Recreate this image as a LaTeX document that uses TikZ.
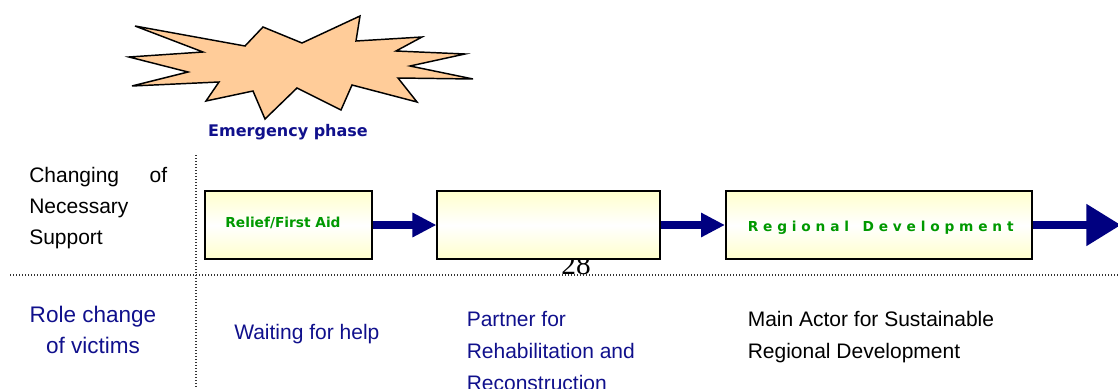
\documentclass[tikz,border=0pt]{standalone}
\usepackage{fontspec}
\setmainfont{Liberation Sans}
\newfontfamily\verd{DejaVu Sans}
\newfontfamily\verdsp{DejaVu Sans}[LetterSpace=35]
\newfontfamily\tnr{Liberation Serif}
\usetikzlibrary{arrows.meta}
\definecolor{navyc}{RGB}{0,0,128}
\definecolor{navytext}{RGB}{16,16,140}
\definecolor{greenc}{RGB}{0,153,0}
\definecolor{peach}{RGB}{255,204,153}
\definecolor{paleyellow}{RGB}{255,255,204}
\tikzset{
  stepbox/.style={draw=black, line width=1.5pt, inner sep=0pt,
    top color=paleyellow, bottom color=paleyellow, middle color=white,
    minimum height=51pt},
  flowarrow/.style={navyc, line width=6pt, -{Triangle[length=18pt,width=17.25pt]}},
  bigarrow/.style={navyc, line width=6pt, -{Triangle[length=26pt,width=30pt]}},
  dotline/.style={black!80, line width=0.9pt, dash pattern=on 0.9pt off 1.35pt},
  body/.style={font=\fontsize{15.75}{24}\selectfont, inner sep=0pt},
  bodybig/.style={font=\fontsize{16.9}{24}\selectfont, inner sep=0pt},
  boxlabel/.style={font=\verd\bfseries\fontsize{10.3}{12}\selectfont, text=greenc, inner sep=0pt},
}
\begin{document}
\begin{tikzpicture}[x=0.75pt,y=-0.75pt]
\useasboundingbox (0,0) rectangle (1118,389);
\clip (0,0) rectangle (1118,389);
% starburst
\filldraw[fill=peach, draw=black, line width=1.1pt, line join=miter]
  (135,26) -- (245,46) -- (263,27) -- (302,43) -- (360,16) -- (356,41)
  -- (422,37) -- (396,51) -- (465,54) -- (410,66) -- (473,79) -- (398,78)
  -- (417,102) -- (352,85) -- (341,110) -- (297,88) -- (265,119) -- (253,91)
  -- (206,101) -- (219,82) -- (132,86) -- (188,72) -- (129,57) -- (203,52) -- cycle;
\node[font=\verd\bfseries\fontsize{12}{14}\selectfont, text=navytext, inner sep=0pt, anchor=base] (emerg) at (288,136) {Emergency phase};
% grid lines
\coordinate (vtop) at (196,155);
\coordinate (vbot) at (196,389);
\coordinate (hl) at (10,275);
\coordinate (hr) at (1118,275);
\draw[dotline] (vtop) -- (vbot);
\draw[dotline] (hl) -- (hr);
% page number behind box
\node[font=\tnr\fontsize{22}{24}\selectfont, inner sep=0pt, anchor=base] (pg) at (576,274) {28};
% boxes
\node[stepbox, minimum width=125.25pt] (b1) at (288.5,225) {};
\node[stepbox, minimum width=166.9pt] (b2) at (548.75,225) {};
\node[stepbox, minimum width=229.5pt] (b3) at (879,225) {};
\node[boxlabel, anchor=base] (t1) at (283,227.5) {Relief/First Aid};
\node[boxlabel, font=\verdsp\bfseries\fontsize{10.3}{12}\selectfont, anchor=base west] (t3) at (747.5,231) {Regional\ \hspace{3pt}Development};
% arrows
\coordinate (end) at (1121,225);
\draw[flowarrow] (b1.east) -- (b2.west);
\draw[flowarrow] (b2.east) -- (b3.west);
\draw[bigarrow] (b3.east) -- (end);
% left labels
\node[body, text width=103.5pt, anchor=base west] (l1) at (29,182) {Changing\hfill of};
\node[body, anchor=base west] (l2) at (29,213) {Necessary};
\node[body, anchor=base west] (l3) at (29,244) {Support};
\node[bodybig, text=navytext, anchor=base] (r1) at (93,322) {Role change};
\node[bodybig, text=navytext, anchor=base] (r2) at (93,353) {of victims};
% role texts
\node[body, text=navytext, anchor=base west] (w1) at (234,339) {Waiting for help};
\node[body, text=navytext, anchor=base west] (p1) at (466.5,326) {Partner for};
\node[body, text=navytext, anchor=base west] (p2) at (466.5,358) {Rehabilitation and};
\node[body, text=navytext, anchor=base west] (p3) at (466.5,390) {Reconstruction};
\node[body, text=black, anchor=base west] (m1) at (747.5,326) {Main Actor for Sustainable};
\node[body, text=black, anchor=base west] (m2) at (747.5,358) {Regional Development};
\end{tikzpicture}
\end{document}
